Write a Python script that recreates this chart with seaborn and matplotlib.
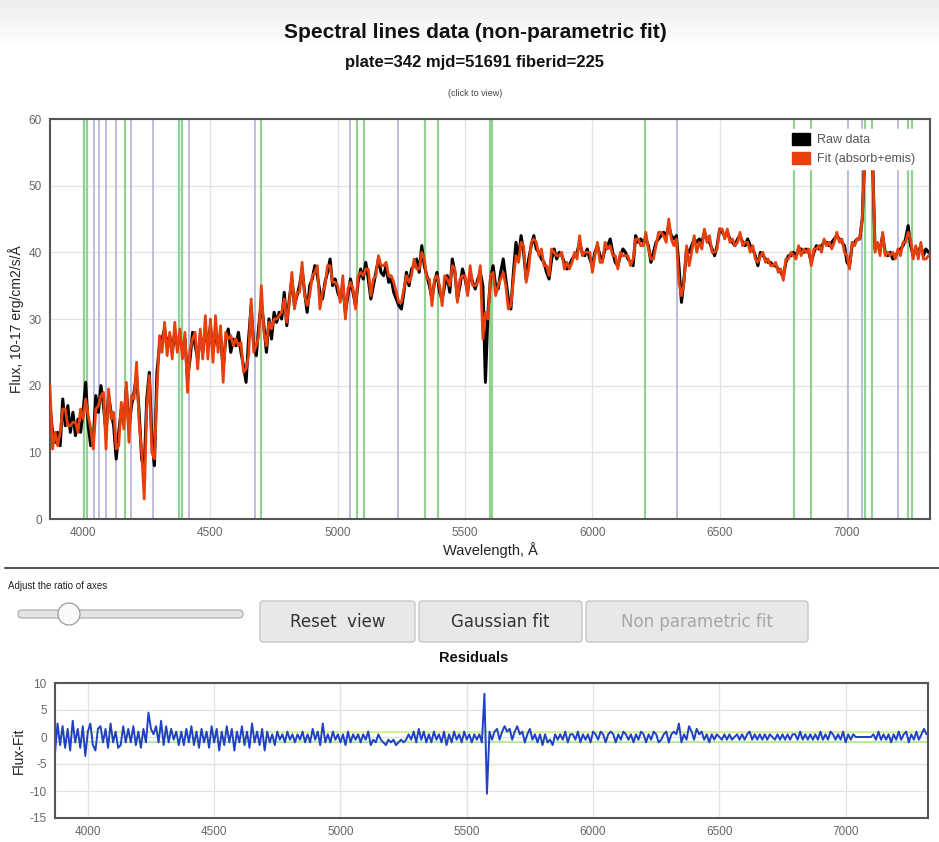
import numpy as np
import pandas as pd
import seaborn as sns
import matplotlib.pyplot as plt
from matplotlib.patches import FancyBboxPatch, Circle, Patch
from matplotlib.lines import Line2D

wave_start, wave_step = 3870, 10
flux = [
    17, 13, 11.5, 13, 11, 18, 14, 17, 13, 16,
    12.5, 15, 13, 16, 20.5, 14, 11, 12, 18.5, 16,
    20, 17, 13, 18.5, 16, 14, 9, 13, 16.5, 15,
    19.5, 13.5, 17, 19, 21.5, 16, 9, 7.5, 18, 22,
    12, 8, 22, 26, 27, 28.5, 26, 27.5, 25, 28,
    26, 27, 25.5, 27, 21, 24, 28, 26, 24, 27.5,
    25, 28.5, 26, 29, 25, 28, 26, 27.5, 22.5, 27,
    28.5, 25, 27, 26, 28, 25, 23, 20.5, 27, 32,
    26, 24.5, 29, 32.5, 29, 25, 30, 27, 31, 29.5,
    31, 30, 34, 29, 33, 36, 32, 33.5, 35, 37.5,
    34, 31, 35, 36, 38, 36.5, 34, 33, 35.5, 37,
    39, 35, 36, 34, 33, 35, 31, 33.5, 36, 34,
    32, 35.5, 37.5, 36, 38.5, 36, 33, 35, 37, 39,
    37, 36.5, 38, 35.5, 36, 34, 33, 32, 31.5, 34,
    37, 35, 37.5, 38, 39, 37, 41, 38, 36.5, 35,
    33, 35.5, 37, 34, 33, 35, 36.5, 34, 39, 37,
    33, 35, 37.5, 36, 34, 37, 35.5, 34.5, 36, 37,
    35, 20.5, 31, 36, 38, 35, 34.5, 37, 39, 36,
    33, 31.5, 37, 41.5, 39, 42.5, 40, 36, 39, 41,
    42.5, 40.5, 40, 39, 38.5, 37, 36, 39, 40.5, 39,
    40, 39.5, 38.5, 37.5, 38, 39, 39.5, 40, 41.5, 40,
    39.5, 40.5, 39, 38, 40, 41, 39.5, 39, 40.5, 41,
    42, 40, 38.5, 38, 39.5, 40.5, 40, 39, 38.5, 38,
    42.5, 41.5, 42, 41.5, 42, 41, 38.5, 40, 41.5, 42,
    42.5, 43, 42.5, 44, 42.5, 42, 42.5, 38, 32.5, 36,
    40.5, 40, 41, 42, 41.5, 42, 41.5, 43, 42, 41.5,
    40.5, 39.5, 41, 43.5, 43, 42.5, 43, 42, 41.5, 41,
    42, 42.5, 41.5, 41, 42, 41, 40.5, 39.5, 38, 40,
    39.5, 39, 38.5, 38.5, 38, 38, 37.5, 37, 36.3, 38.5,
    39.5, 39.5, 40, 39.5, 40.5, 40.5, 40, 40.5, 40, 38.5,
    40, 41, 40.5, 41, 41.5, 41.5, 41, 41.5, 42, 42.5,
    42, 41.5, 41, 38.5, 38, 41, 41.5, 42, 42, 45,
    55, 55, 55, 55, 40.5, 41, 40.5, 42.5, 40, 39.5,
    40, 39, 39.5, 40, 40.5, 41, 42, 44, 41, 39.5,
    40.5, 40, 41, 39.5, 40.5, 40,
]
# residuals Flux-Fit on the same grid
resid = [
    -3, 2.5, -1.5, 2, -2, 1.5, -2.5, 3, -1, 1.5,
    -2, 2, -3.5, 1, 2.5, -1.5, -2.5, 1.5, 2, -1,
    1.5, -2, 2.5, -1, 1, -2, -1.5, 2, -1, 1.5,
    -1, 2, -1.5, 1, -2, 1.5, -1, 4.5, 1.5, 0.5,
    2, -1, 3, -1.5, 2, -1, 1.5, -0.5, 1, -1.5,
    1, -1.5, 1.5, -1, 2, -1.5, 1, -2, 1.5, -1,
    1, -2, 2, -1, 1.5, -2.5, 1, -1.5, 2, -1,
    1.5, -2.5, 1, -1, 2, -1.5, 1, -2, 2.5, -1,
    1, -1.5, 1.5, -2.5, 1, -1, 0.5, -1.5, 1, -0.5,
    0.5, -1, 1, -0.5, 0.5, -1, 0.5, -0.5, 1, -1,
    0.5, -1, 1.5, -0.5, 1, -1.5, 2.5, -1, 0.5, -1,
    1, -0.5, 0.5, -1, 0.5, -1.5, 1, -1, 0.5, -0.5,
    0.5, -1, 0.5, -0.5, 1, -1.5, -0.5, -1, 0.5, -0.5,
    -1, -1.5, -0.5, -1, -0.5, -1.5, -1, -0.5, -1, -0.5,
    0.5, -0.5, 1, -1, 1.5, -0.5, 1, -1, 0.5, -1,
    1, -0.5, 0.5, -1, 1, -1.5, 0.5, -1, 1, -0.5,
    0.5, -1, 1, -0.5, 0.5, -1, 0.5, -0.5, 0.5, -1,
    8, -10.5, 1, -0.5, 1, 1.5, -0.5, 1, 2, 1,
    1.5, -0.5, 1, 2, 0.5, 1, -1, 0.5, 1.5, -0.5,
    0.5, -1, 0.5, -1.5, 0.5, -1, -0.5, -1.5, 0.5, -0.5,
    0.5, -0.5, 1, -1, 0.5, 0.5, -0.5, 1, -1, 0.5,
    -0.5, 0.5, -1, 1, 0.5, -0.5, 1, 0.5, -1, 0.5,
    1, 0.5, -1, 0.5, -0.5, 1, 0.5, -0.5, 0.5, -1,
    0.5, -0.5, 1, 0.5, -1, 0.5, -0.5, 1, 0.5, -1,
    -0.5, 0.5, 1, -1, 0.5, 1, 0.5, 2.5, -1, 0.5,
    -0.5, 2, 1, -0.5, 1.5, 0.5, 1, -0.5, 0.5, -1,
    0.5, -0.5, 0.5, 0, -0.5, 0.5, -0.5, 0.5, -0.5, 0,
    0.5, -0.5, 0.5, -0.5, 0.5, 1, -0.5, 0.5, -0.5, 0.5,
    -0.5, 0.5, -0.5, 0.5, 0, -0.5, 0.5, -0.5, 0.5, -0.5,
    0.5, -0.5, 0.5, 0.5, -0.5, 1, -0.5, 0.5, -0.5, 0.5,
    -0.5, 0.5, -0.5, 1, -0.5, 0.5, -0.5, 1, 0.5, -0.5,
    0.5, -0.5, 1, -1, 0.5, -0.5, 0.5, 0, 0, 0,
    0, 0, 0, 0, 0.5, -0.5, 1, -0.5, 0.5, -0.5,
    0.5, -1, 0.5, -0.5, 1, -0.5, 0.5, 1, -1, 0.5,
    -0.5, 1, -0.5, 0.5, 1.5, 0.5,
]
emission_lines = [4002, 4014, 4165, 4377, 4388, 4698, 5075, 5105, 5343, 5392,
                  5598, 5604, 6205, 6790, 6858, 7071, 7098, 7238, 7257]
absorption_lines = [4041, 4064, 4090, 4130, 4187, 4276, 4417, 4676, 5049, 5236,
                    6334, 7002, 7058, 7200]
flux_ticks = [0, 10, 20, 30, 40, 50, 60]
resid_ticks = [-15, -10, -5, 0, 5, 10]
wave_ticks = [4000, 4500, 5000, 5500, 6000, 6500, 7000]

wave = wave_start + wave_step * np.arange(len(flux))
df = pd.DataFrame({"wavelength": wave, "flux": flux, "resid": resid})
df["fit"] = df["flux"] - df["resid"]

sns.set_style("whitegrid")
plt.rcParams["font.family"] = ["Liberation Sans", "DejaVu Sans"]
plt.rcParams["axes.unicode_minus"] = False

W, H = 939, 842
fig = plt.figure(figsize=(W / 100, H / 100), dpi=100)


def fx(px):
    return px / W


def fy(py):
    return 1 - py / H


# light gray band at the top of the page
bg = fig.add_axes([0, fy(50), 1, 50 / H], zorder=-5)
bg.imshow(np.linspace(0.93, 1, 50).reshape(-1, 1), cmap="gray", vmin=0, vmax=1,
          aspect="auto", extent=[0, 1, 0, 1])
bg.axis("off")

fig.text(fx(475), fy(33), "Spectral lines data (non-parametric fit)", ha="center",
         va="center", fontsize=15, fontweight="bold", color="#111111")
fig.text(fx(475), fy(62), "plate=342 mjd=51691 fiberid=225", ha="center",
         va="center", fontsize=12, fontweight="bold", color="#111111")
fig.text(fx(475), fy(94), "(click to view)", ha="center", va="center",
         fontsize=6.5, color="#444444")


def style_axes(ax):
    for s in ax.spines.values():
        s.set_color("#555555")
        s.set_linewidth(1.5)
    ax.grid(True, color="#e2e2e2", lw=0.9)
    ax.tick_params(length=0, labelsize=8.5, labelcolor="#666666", pad=6)


# main spectrum panel
ax = fig.add_axes([fx(50), fy(519), fx(930) - fx(50), fy(119) - fy(519)])
for w in emission_lines:
    ax.axvline(w, color="#93d193", lw=1.6, zorder=1)
for w in absorption_lines:
    ax.axvline(w, color="#b8b8de", lw=1.3, zorder=1)
sns.lineplot(data=df, x="wavelength", y="flux", color="black", lw=2.2,
             estimator=None, sort=False, ax=ax, zorder=2)
sns.lineplot(data=df, x="wavelength", y="fit", color="#e8400c", lw=2.0,
             estimator=None, sort=False, ax=ax, zorder=3)
ax.set_xlim(3870, 7326)
ax.set_ylim(0, 60)
ax.set_xticks(wave_ticks)
ax.set_yticks(flux_ticks)
style_axes(ax)
ax.set_xlabel("Wavelength, Å", fontsize=10.5, color="#222222", labelpad=2)
ax.set_ylabel("Flux, 10-17 erg/cm2/s/Å", fontsize=10, color="#222222", labelpad=3)
handles = [Patch(facecolor="black", edgecolor="black"),
           Patch(facecolor="#e8400c", edgecolor="#e8400c")]
leg = ax.legend(handles, ["Raw data", "Fit (absorb+emis)"], loc="upper right",
                bbox_to_anchor=(0.987, 0.975), fontsize=9, frameon=True,
                framealpha=1, edgecolor="white", facecolor="white",
                handlelength=1.5, handleheight=1.1, borderpad=0.3,
                labelspacing=0.45, handletextpad=0.5, borderaxespad=0)
for t in leg.get_texts():
    t.set_color("#555555")
leg.set_zorder(10)

# separator and controls
fig.add_artist(Line2D([fx(5), 1], [fy(568), fy(568)], color="#555555", lw=1.5))
fig.text(fx(8), fy(586), "Adjust the ratio of axes", ha="left", va="center",
         fontsize=7, color="#222222")

tr = fig.dpi_scale_trans
fig.add_artist(FancyBboxPatch((18 / 100, (H - 618) / 100), 225 / 100, 8 / 100,
                              boxstyle="round,pad=0,rounding_size=0.04",
                              fc="#e4e4e4", ec="#a8a8a8", lw=0.8, transform=tr))
fig.add_artist(Circle((69 / 100, (H - 614) / 100), 11 / 100, fc="#fafafa",
                      ec="#9a9a9a", lw=0.9, transform=tr))


def button(x0, x1, label, color):
    y0, y1 = 601, 642
    fig.add_artist(FancyBboxPatch((x0 / 100, (H - y1) / 100), (x1 - x0) / 100,
                                  (y1 - y0) / 100,
                                  boxstyle="round,pad=0,rounding_size=0.03",
                                  fc="#e8e8e8", ec="#c2c2c2", lw=0.9, transform=tr))
    fig.text(fx((x0 + x1) / 2), fy(622), label, ha="center", va="center",
             fontsize=12, color=color, family=["DejaVu Sans"])


button(260, 415, "Reset  view", "#333333")
button(419, 582, "Gaussian fit", "#333333")
button(586, 808, "Non parametric fit", "#a6a6a6")

fig.text(fx(474), fy(658), "Residuals", ha="center", va="center", fontsize=10.5,
         fontweight="bold", color="#111111")

# residual panel
ax2 = fig.add_axes([fx(55), fy(818), fx(928) - fx(55), fy(683) - fy(818)])
ax2.axhline(1, color="#cdef7c", lw=1.2, zorder=1)
ax2.axhline(-1, color="#a9e98e", lw=1.2, zorder=1)
sns.lineplot(data=df, x="wavelength", y="resid", color="#2141c4", lw=1.4,
             estimator=None, sort=False, ax=ax2, zorder=2)
ax2.set_xlim(3870, 7326)
ax2.set_ylim(-15, 10)
ax2.set_xticks(wave_ticks)
ax2.set_yticks(resid_ticks)
style_axes(ax2)
ax2.set_xlabel("")
ax2.set_ylabel("Flux-Fit", fontsize=10, color="#222222", labelpad=3)

fig.savefig("out.png", dpi=100)
